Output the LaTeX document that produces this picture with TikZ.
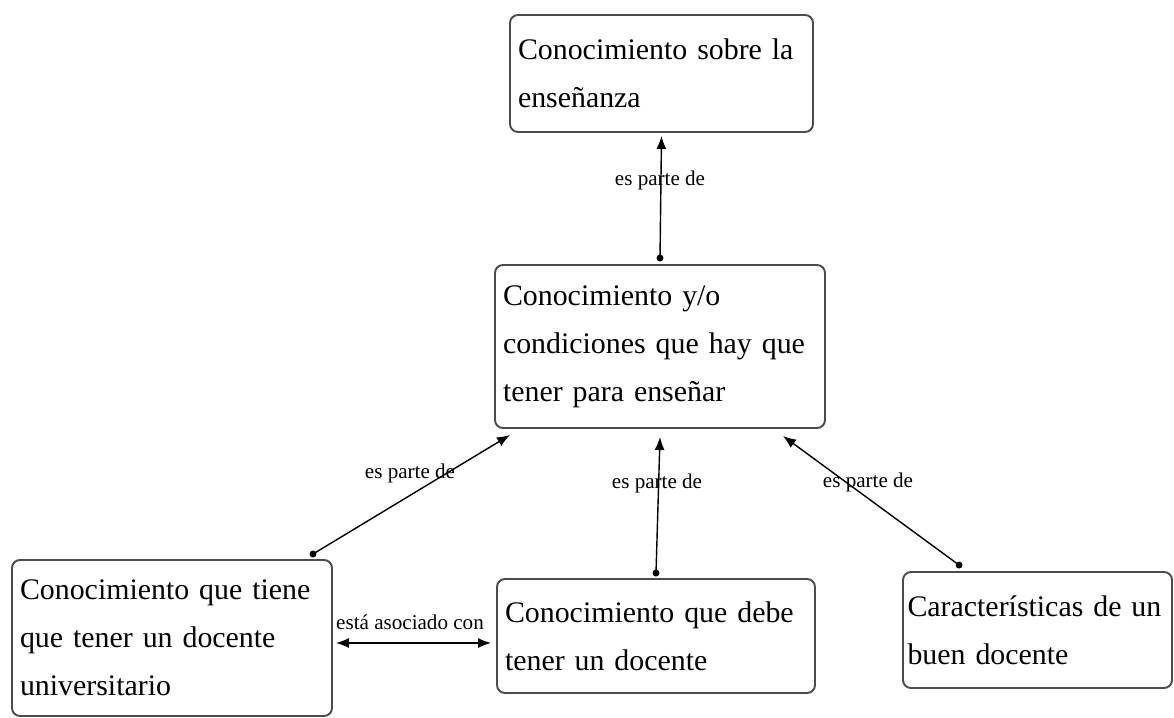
\documentclass[tikz,border=0pt]{standalone}
\usepackage{fontspec}
\setmainfont{Liberation Serif}
\usetikzlibrary{arrows.meta}

\tikzset{
  concept/.style={draw=black!70, line width=1.1pt, rounded corners=0.16cm,
    align=left, inner xsep=0.16cm, inner ysep=0.1cm, font=\fontsize{17}{27.3}\selectfont},
  link/.style={font=\fontsize{12}{14}\selectfont, inner sep=1pt},
  rel/.style={-{Latex[length=2.6mm,width=2mm]}, line width=0.8pt},
  dot/.style={fill, circle, inner sep=1.4pt}
}

\begin{document}
\begin{tikzpicture}
  \useasboundingbox (0,0) rectangle (23.48,14.34);
  \node[concept, minimum width=6.06cm, minimum height=2.34cm, text width=5.74cm] (top) at (13.23,12.87) {Conocimiento sobre la\\enseñanza};
  \node[concept, minimum width=6.6cm, minimum height=3.26cm, text width=6.28cm] (mid) at (13.2,7.41) {Conocimiento y/o\\condiciones que hay que\\tener para enseñar};
  \node[concept, minimum width=6.4cm, minimum height=3.12cm, text width=6.08cm] (bl) at (3.44,1.58) {Conocimiento que tiene\\que tener un docente\\universitario};
  \node[concept, minimum width=6.36cm, minimum height=2.28cm, text width=6.04cm] (bm) at (13.12,1.62) {Conocimiento que debe\\tener un docente};
  \node[concept, inner xsep=0.09cm, minimum width=5.38cm, minimum height=2.32cm, text width=5.2cm] (br) at (20.75,1.74) {Características de un\\buen docente};

  \coordinate (s1) at ([yshift=1.2mm]mid.north);
  \coordinate (s2) at ([xshift=-4mm,yshift=1mm]bl.north east);
  \coordinate (s3) at ([yshift=1mm]bm.north);
  \coordinate (s4) at ([xshift=1.14cm,yshift=1.2mm]br.north west);
  \coordinate (asc) at ([xshift=0.6mm,yshift=-1mm]bl.east);

  \draw[rel] (s1) -- ([yshift=-0.6mm]top.south);
  \draw[rel] (s2) -- ([xshift=3.2mm,yshift=-1.2mm]mid.south west);
  \draw[rel] (s3) -- ([yshift=-1.6mm]mid.south);
  \draw[rel] (s4) -- ([xshift=-8.6mm,yshift=-1.4mm]mid.south east);
  \draw[line width=0.8pt, {Latex[length=2.6mm,width=2mm]}-{Latex[length=2.6mm,width=2mm]}] (asc) -- ([xshift=-1mm]asc -| bm.west);
  \foreach \p in {s1,s2,s3,s4}
    \node[dot] at (\p) {};

  \node[link] (l1) at (13.2,10.74) {es parte de};
  \node[link] (l2) at (8.2,4.88) {es parte de};
  \node[link] (l3) at (13.14,4.68) {es parte de};
  \node[link] (l4) at (17.36,4.7) {es parte de};
  \node[link] (l5) at (8.2,1.9) {está asociado con};
\end{tikzpicture}
\end{document}
